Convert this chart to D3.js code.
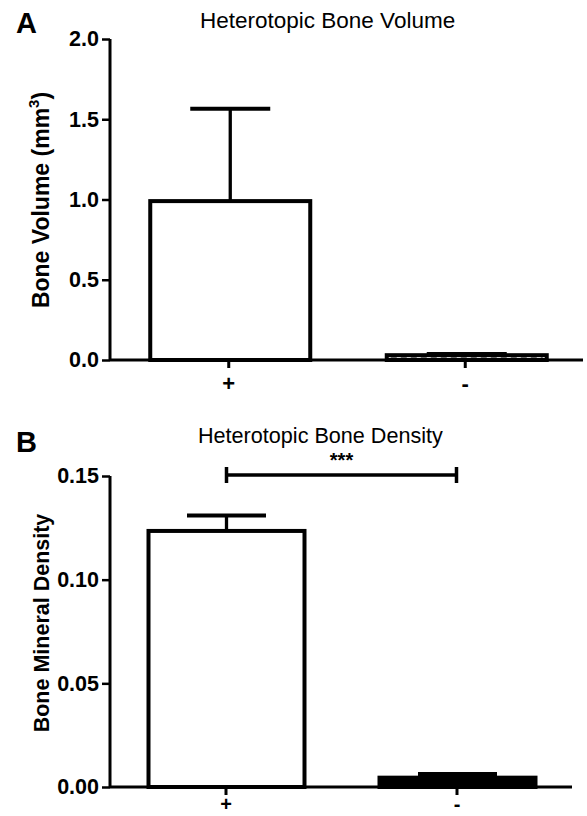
<!DOCTYPE html>
<html lang="en">
<head>
    <meta charset="utf-8">
    <title>Heterotopic Bone</title>
    <script src="https://cdn.jsdelivr.net/npm/d3@7"></script>
    <style>
        body { margin: 0; background: #fff; }
        svg text { font-family: "Liberation Sans", Arial, sans-serif; fill: #000; }
    </style>
</head>
<body>
<script>
    // data
    const groups = ["+", "-"];
    const volumeMean = [0.99, 0.03];
    const volumeErr = [0.575, 0.008];
    const volumeTicks = [0, 0.5, 1.0, 1.5, 2.0];
    const densityMean = [0.1235, 0.0045];
    const densityErr = [0.0075, 0.0018];
    const densityTicks = [0, 0.05, 0.10, 0.15];

    const FONT = "Liberation Sans, Arial, sans-serif";
    const svg = d3.select("body").append("svg")
        .attr("width", 587).attr("height", 816);

    function panel(opt) {
        const g = svg.append("g");
        const x = d3.scalePoint().domain(groups).range([110, opt.xEnd]).padding(0.5);
        const y = d3.scaleLinear().domain(opt.domain).range([opt.y0, opt.y1]);

        // bars
        groups.forEach((k, i) => {
            const cx = x(k) + opt.shift;
            const top = y(opt.mean[i]);
            const etop = y(opt.mean[i] + opt.err[i]);
            const filled = opt.filled && opt.filled[i];
            // error bar
            g.append("line").attr("x1", cx).attr("x2", cx).attr("y1", top).attr("y2", etop)
                .attr("stroke", "#000").attr("stroke-width", 3.3);
            g.append("line").attr("x1", cx - opt.cap / 2).attr("x2", cx + opt.cap / 2)
                .attr("y1", etop).attr("y2", etop)
                .attr("stroke", "#000").attr("stroke-width", 4);
            g.append("rect")
                .attr("x", cx - opt.barW / 2).attr("width", opt.barW)
                .attr("y", top).attr("height", y(0) - top)
                .attr("fill", filled ? "#000" : "#fff")
                .attr("stroke", "#000").attr("stroke-width", 4);
            if (opt.dashed && opt.dashed[i]) {
                g.append("line").attr("x1", cx - opt.barW / 2 + 4).attr("x2", cx + opt.barW / 2 - 4)
                    .attr("y1", y(0) - 2.5).attr("y2", y(0) - 2.5)
                    .attr("stroke", "#666").attr("stroke-width", 1.2)
                    .attr("stroke-dasharray", "6,4");
            }
        });

        // axes
        const ya = g.append("g").attr("transform", "translate(110,0)")
            .call(d3.axisLeft(y).tickValues(opt.ticks).tickFormat(opt.fmt).tickSize(8).tickPadding(3));
        ya.select(".domain").attr("d", `M0,${opt.y0}V${y(opt.domain[1])}`)
            .attr("stroke-width", 3);
        ya.selectAll(".tick line").attr("stroke-width", 2.5);
        ya.selectAll(".tick text").attr("font-size", 21.5).attr("font-weight", "bold")
            .attr("font-family", FONT);

        const xa = g.append("g").attr("transform", `translate(0,${opt.y0})`)
            .call(d3.axisBottom(x).tickSize(8).tickPadding(opt.xPad));
        xa.select(".domain").attr("d", `M110,0H${opt.xEnd}`).attr("stroke-width", 3);
        xa.selectAll(".tick line").attr("stroke-width", 3);
        xa.selectAll(".tick text").attr("font-size", opt.xSize).attr("font-weight", "bold")
            .attr("font-family", FONT);

        // titles
        g.append("text").attr("x", opt.titleX).attr("y", opt.titleY)
            .attr("font-size", opt.titleSize).text(opt.title);
        g.append("text").attr("x", 16).attr("y", opt.letterY)
            .attr("font-size", 29).attr("font-weight", "bold").text(opt.letter);

        const yl = g.append("text")
            .attr("transform", `translate(${opt.ylabelX},${opt.ylabelY}) rotate(-90)`)
            .attr("text-anchor", "middle").attr("font-size", opt.ylabelSize).attr("font-weight", "bold");
        yl.append("tspan").text(opt.ylabel);
        if (opt.ysup) {
            yl.append("tspan").attr("font-size", 15).attr("dy", -10).text(opt.ysup);
            yl.append("tspan").attr("dy", 10).text(")");
        }
        return {g, x, y};
    }

    panel({
        domain: [0, 2], y0: 360, y1: 39, xEnd: 583, ticks: volumeTicks, fmt: d3.format(".1f"),
        mean: volumeMean, err: volumeErr, barW: 160, cap: 80, shift: 2,
        dashed: [false, true], xPad: 7, xSize: 22,
        title: "Heterotopic Bone Volume", titleX: 200, titleY: 28, titleSize: 22.5,
        letter: "A", letterY: 33,
        ylabel: "Bone Volume (mm", ysup: "3", ylabelX: 49, ylabelY: 200, ylabelSize: 23
    });

    const b = panel({
        domain: [0, 0.15], y0: 787, y1: 476, xEnd: 572, ticks: densityTicks, fmt: d3.format(".2f"),
        mean: densityMean, err: densityErr, barW: 156, cap: 79, shift: 1,
        filled: [false, true], xPad: 2, xSize: 20,
        title: "Heterotopic Bone Density", titleX: 198, titleY: 443, titleSize: 21.6,
        letter: "B", letterY: 452,
        ylabel: "Bone Mineral Density", ylabelX: 49, ylabelY: 623, ylabelSize: 21.5
    });

    // significance bracket
    const sy = b.y(0.15) - 1;
    const sx1 = b.x("+") + 1, sx2 = b.x("-");
    b.g.append("line").attr("x1", sx1).attr("x2", sx2).attr("y1", sy).attr("y2", sy)
        .attr("stroke", "#000").attr("stroke-width", 3.5);
    [sx1, sx2].forEach(sx => b.g.append("line").attr("x1", sx).attr("x2", sx)
        .attr("y1", sy - 8).attr("y2", sy + 8).attr("stroke", "#000").attr("stroke-width", 3.5));
    b.g.append("text").attr("x", (sx1 + sx2) / 2).attr("y", sy + 10)
        .attr("text-anchor", "middle").attr("font-size", 20).attr("font-weight", "bold")
        .attr("dy", "-0.9em").text("***");
</script>
</body>
</html>
